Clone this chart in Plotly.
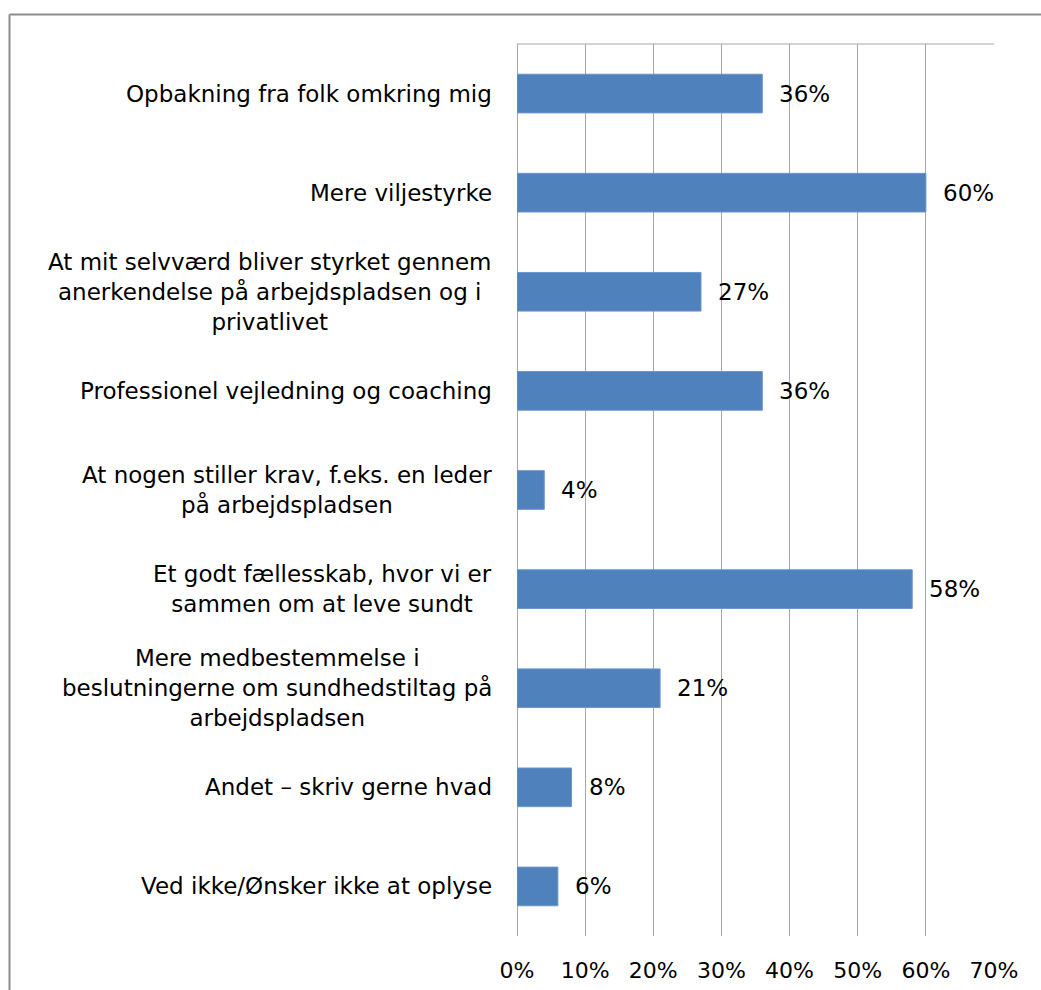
import plotly.graph_objects as go

categories = [
    "Opbakning fra folk omkring mig",
    "Mere viljestyrke",
    "At mit selvværd bliver styrket gennem<br>anerkendelse på arbejdspladsen og i<br>privatlivet",
    "Professionel vejledning og coaching",
    "At nogen stiller krav, f.eks. en leder<br>på arbejdspladsen",
    "Et godt fællesskab, hvor vi er<br>sammen om at leve sundt",
    "Mere medbestemmelse i<br>beslutningerne om sundhedstiltag på<br>arbejdspladsen",
    "Andet – skriv gerne hvad",
    "Ved ikke/Ønsker ikke at oplyse",
]
values = [36, 60, 27, 36, 4, 58, 21, 8, 6]
tick_values = [0, 10, 20, 30, 40, 50, 60, 70]
tick_labels = ["0%", "10%", "20%", "30%", "40%", "50%", "60%", "70%"]

W, H = 1041, 990
L, R, T, B = 517, 47, 44, 54
FONT = "DejaVu Sans"
BAR = "#4F81BD"
GRID = "#A6A6A6"


def px_x(px):
    return (px - L) / (W - L - R)


def px_y(py):
    return 1 - (py - T) / (H - T - B)


fig = go.Figure(
    go.Bar(
        y=list(range(len(categories))),
        x=values,
        orientation="h",
        width=0.39,
        marker=dict(color=BAR, line=dict(color="#6B95C9", width=1)),
        hoverinfo="skip",
    )
)

annotations = []
for i, (cat, v) in enumerate(zip(categories, values)):
    # category label, right-aligned block with centred lines
    annotations.append(dict(
        x=px_x(494), xref="paper", y=i, yref="y",
        text=cat, showarrow=False, xanchor="right", yanchor="middle",
        align="center", font=dict(family=FONT, size=23, color="#000000"),
    ))
    # value label just right of the bar end
    annotations.append(dict(
        x=v, xref="x", y=i, yref="y",
        text=f"{v}%", showarrow=False, xanchor="left", yanchor="middle",
        xshift=15, font=dict(family=FONT, size=23, color="#000000"),
    ))

shapes = [
    # top edge of the plot area
    dict(type="line", xref="paper", yref="paper", x0=0, x1=1, y0=1, y1=1,
         line=dict(color=GRID, width=1)),
    # outer chart frame (left and top edges)
    dict(type="line", xref="paper", yref="paper",
         x0=px_x(9.5), x1=px_x(9.5), y0=px_y(14.5), y1=px_y(1000),
         line=dict(color="#8C8C8C", width=2)),
    dict(type="line", xref="paper", yref="paper",
         x0=px_x(9.5), x1=px_x(1050), y0=px_y(14.5), y1=px_y(14.5),
         line=dict(color="#8C8C8C", width=2)),
]

fig.update_layout(
    width=W, height=H,
    margin=dict(l=L, r=R, t=T, b=B, pad=0, autoexpand=False),
    paper_bgcolor="white", plot_bgcolor="white",
    showlegend=False,
    bargap=0.61,
    font=dict(family=FONT, size=22, color="#000000"),
    annotations=annotations,
    shapes=shapes,
    xaxis=dict(
        range=[0, 70], tickvals=tick_values, ticktext=tick_labels,
        showgrid=True, gridcolor=GRID, gridwidth=1,
        zeroline=True, zerolinecolor=GRID, zerolinewidth=1,
        showline=False, ticks="", ticklabelstandoff=19, automargin=False,
        tickfont=dict(family=FONT, size=22, color="#000000"),
        fixedrange=True,
    ),
    yaxis=dict(
        range=[len(categories) - 0.5, -0.5],
        showticklabels=False, showgrid=False, zeroline=False, showline=False,
        ticks="", fixedrange=True, automargin=False,
    ),
)

fig.write_html("out.html")
